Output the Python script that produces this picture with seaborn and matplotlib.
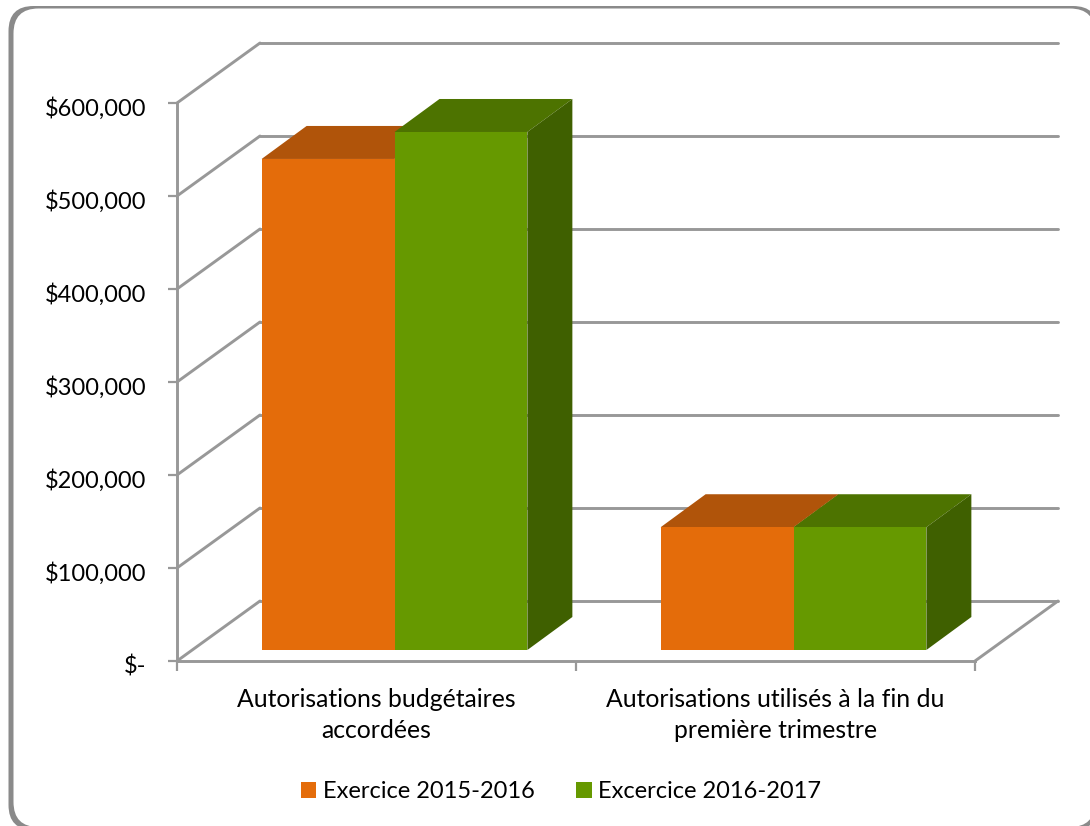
import pandas as pd
import seaborn as sns
import matplotlib.pyplot as plt
from matplotlib.patches import FancyBboxPatch, Polygon
from matplotlib.lines import Line2D
from matplotlib.transforms import IdentityTransform, ScaledTranslation

categories = ['Autorisations budgétaires\naccordées',
              'Autorisations utilisés à la fin du\npremière trimestre']
serie_2015 = [528000, 132000]
serie_2016 = [557000, 132000]
nom_2015 = 'Exercice 2015-2016'
nom_2016 = 'Excercice 2016-2017'
y_ticks = [0, 100000, 200000, 300000, 400000, 500000, 600000]
y_labels = ['$-', '$100,000', '$200,000', '$300,000', '$400,000', '$500,000', '$600,000']

W, H = 1090, 826
GRIS = '#989898'
ORANGE = ['#E46C0A', '#B0540A']
VERT = ['#669900', '#4D7300', '#3F6000']
# profondeur du mur (px) et decalage des barres
MUR = (83, 60)
BARRE_DEBUT = (18, 11)
BARRE_PROF = (45, 33)

sns.set_theme(style='white')
plt.rcParams['font.family'] = ['Lato', 'DejaVu Sans']

df = pd.DataFrame({
    'categorie': categories * 2,
    'valeur': serie_2015 + serie_2016,
    'exercice': [nom_2015] * 2 + [nom_2016] * 2,
})

fig = plt.figure(figsize=(W / 100, H / 100), dpi=100)
ax = fig.add_axes([177 / W, 1 - 661 / H, (975 - 177) / W, (661 - 103) / H])
sns.barplot(data=df, x='categorie', y='valeur', hue='exercice', ax=ax, width=0.666, gap=0,
            palette=[ORANGE[0], VERT[0]], saturation=1, linewidth=0, errorbar=None)
ax.set_xlim(-0.5, 1.5)
ax.set_ylim(0, 600000)
ax.patch.set_alpha(0)
ax.set_xlabel('')
ax.set_ylabel('')


# cadre arrondi : plus epais a gauche qu'en haut
def cadre(g, h, d, b, coul, z):
    r = 25
    c = FancyBboxPatch((g + r, H - b + r), d - g - 2 * r, b - h - 2 * r,
                       boxstyle='round,pad=%d,rounding_size=%d' % (r, r),
                       transform=IdentityTransform(), fc=coul, ec='none', zorder=z)
    c.set_figure(fig)
    fig.patches.append(c)


cadre(8.5, 6, 1098, 830, '#8a8a8a', -10)
cadre(13.5, 8.5, 1095, 827, 'white', -9)

# axes
for s in ['top', 'right']:
    ax.spines[s].set_visible(False)
for s in ['left', 'bottom']:
    ax.spines[s].set_color(GRIS)
    ax.spines[s].set_linewidth(2.1)
ax.set_yticks(y_ticks)
ax.set_yticklabels(y_labels)
ax.tick_params(axis='y', left=True, length=6.5, width=1.6, color=GRIS, pad=15.5, labelsize=17, labelcolor='black')
bas = ScaledTranslation(0, -3.5 / 100, fig.dpi_scale_trans)
for lab in ax.get_yticklabels():
    lab.set_transform(lab.get_transform() + bas)
ax.set_xticks([0, 1])
ax.set_xticklabels(categories, linespacing=1.42)
ax.tick_params(axis='x', which='major', bottom=False, pad=13.3, labelsize=17.8, labelcolor='black')
ax.set_xticks([-0.5, 0.5, 1.5], minor=True)
ax.tick_params(axis='x', which='minor', bottom=True, length=7, width=1.6, color=GRIS)


def pt(x, y, d=(0, 0)):
    px, py = ax.transData.transform((x, y))
    return (px + d[0], py + d[1])


def trait(a, b, z=1):
    ax.add_line(Line2D([a[0], b[0]], [a[1], b[1]], transform=IdentityTransform(), color=GRIS,
                       lw=2.1, clip_on=False, zorder=z, solid_capstyle='round'))


# murs et sol
x0, x1 = ax.get_xlim()
for v in y_ticks:
    trait(pt(x0, v), pt(x0, v, MUR))
    trait(pt(x0, v, MUR), pt(x1, v, MUR))
trait(pt(x1, 0), pt(x1, 0, MUR))

# barres : face avant decalee, dessus et cote
decal = ScaledTranslation(BARRE_DEBUT[0] / 100, BARRE_DEBUT[1] / 100, fig.dpi_scale_trans)
couleurs = [(ORANGE[0], ORANGE[1], ORANGE[1]), (VERT[0], VERT[1], VERT[2])]
for i, cont in enumerate(ax.containers):
    z = 3 + i
    for p in cont:
        p.set_transform(ax.transData + decal)
        p.set_zorder(z + 0.5)
        g, d = p.get_x(), p.get_x() + p.get_width()
        h = p.get_height()
        sx, sy = BARRE_DEBUT
        px, py = BARRE_PROF
        dessus = [pt(g, h, (sx, sy)), pt(d, h, (sx, sy)), pt(d, h, (sx + px, sy + py)), pt(g, h, (sx + px, sy + py))]
        cote = [pt(d, 0, (sx, sy)), pt(d, h, (sx, sy)), pt(d, h, (sx + px, sy + py)), pt(d, 0, (sx + px, sy + py))]
        ax.add_patch(Polygon(dessus, closed=True, transform=IdentityTransform(), fc=couleurs[i][1], ec='none', clip_on=False, zorder=z))
        ax.add_patch(Polygon(cote, closed=True, transform=IdentityTransform(), fc=couleurs[i][2], ec='none', clip_on=False, zorder=z))

sns.move_legend(ax, 'center', bbox_to_anchor=(561 / W, 1 - 792 / H), bbox_transform=fig.transFigure,
                ncol=2, frameon=False, title=None, fontsize=17, handlelength=0.65, handleheight=0.65,
                handletextpad=0.27, columnspacing=1.76, labelcolor='black')

fig.savefig('out.png', dpi=100)
